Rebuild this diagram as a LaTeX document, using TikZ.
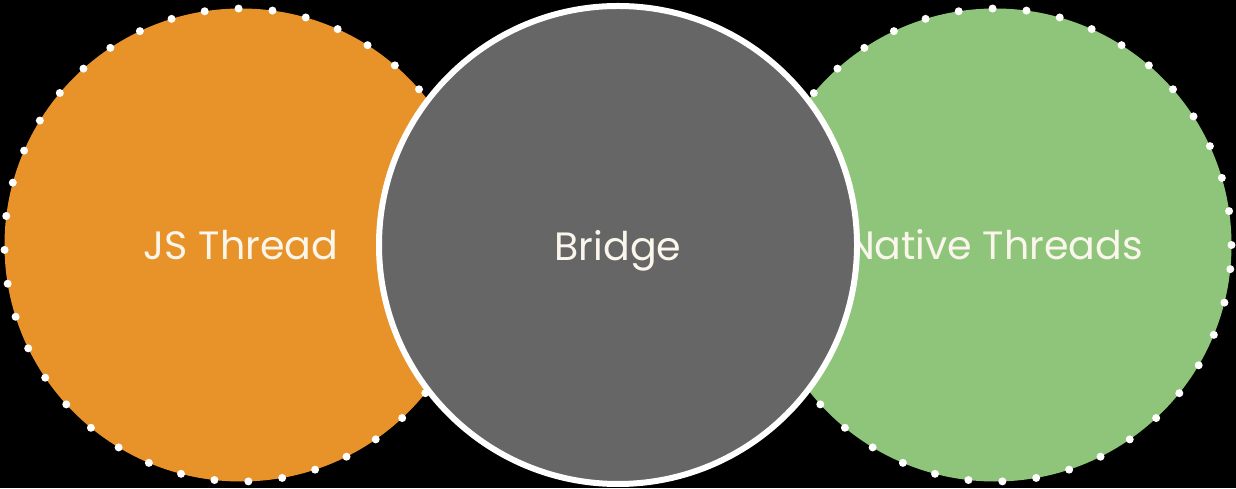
\documentclass[tikz,border=0pt]{standalone}
\usepackage{fontspec}
\setmainfont{Poppins}
\usetikzlibrary{positioning}
\definecolor{jsorange}{RGB}{232, 146, 42}
\definecolor{bridgegray}{RGB}{102, 102, 102}
\definecolor{nativegreen}{RGB}{143, 197, 122}
\definecolor{labeltext}{RGB}{250, 246, 236}

\begin{document}
\begin{tikzpicture}[
    % Global styles
    font=\fontsize{22.5}{26}\selectfont,
    % Circle styles
    thread/.style={
        circle,
        minimum size=9.46cm,
        text=labeltext,
        draw=white,
        line width=0.16cm,
        line cap=round,
        dash pattern=on 0pt off 0.68cm
    },
    bridge/.style={
        circle,
        minimum size=9.56cm,
        text=labeltext,
        text depth=0pt,
        fill=bridgegray,
        draw=white,
        line width=0.12cm
    }
]

% Background
\fill[black] (0,0) rectangle (24.72,9.76);
\useasboundingbox (0,0) rectangle (24.72,9.76);

% --- Nodes ---
\node (js) [thread, fill=jsorange] at (4.82,4.86) {JS Thread};
\node (native) [thread, fill=nativegreen] at (19.9,4.86) {Native Threads};
\node (bridge) [bridge] at (12.36,4.86) {Bridge};

\end{tikzpicture}
\end{document}
